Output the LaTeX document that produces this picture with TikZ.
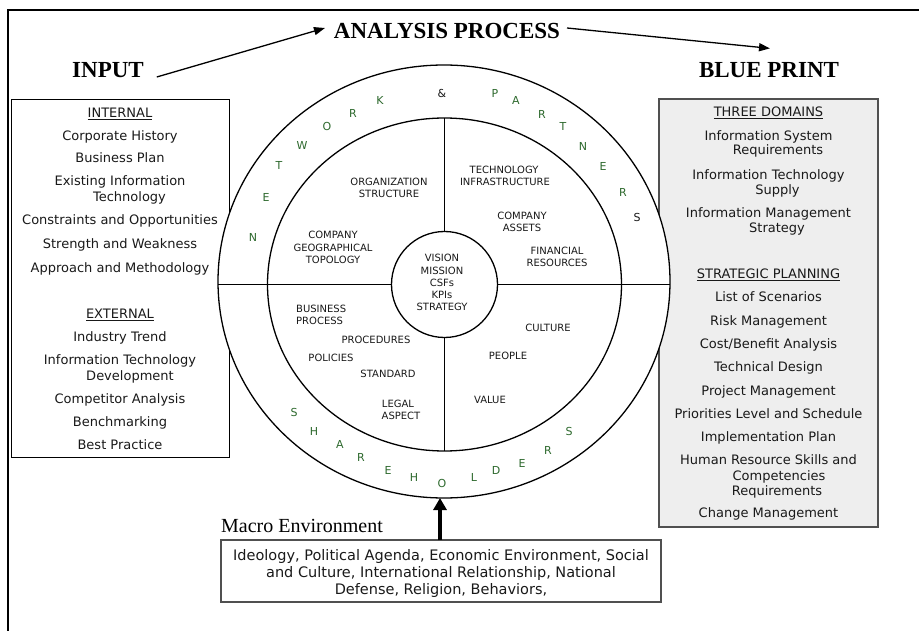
\documentclass[tikz,border=0pt]{standalone}
\usepackage{fontspec}
\setmainfont{Liberation Serif}
\newfontfamily\vsans{DejaVu Sans}
\usetikzlibrary{arrows.meta,calc,shapes.geometric}
\definecolor{ringgreen}{RGB}{45,105,45}
\definecolor{panelgray}{RGB}{238,238,238}
\definecolor{textdark}{RGB}{25,25,25}
\definecolor{panelline}{RGB}{80,80,80}

\begin{document}
\begin{tikzpicture}[x=1pt,y=-1pt,
  title/.style={font=\bfseries\fontsize{23}{24}\selectfont, inner sep=0pt, outer sep=0pt},
  listtext/.style={font=\vsans\fontsize{13}{15}\selectfont, text=textdark, anchor=base, inner sep=0pt},
  envtext/.style={listtext, font=\vsans\fontsize{14.5}{17}\selectfont},
  ringtext/.style={font=\vsans\fontsize{10}{12}\selectfont, text=textdark, anchor=base, inner sep=0pt},
  ringletter/.style={font=\vsans\fontsize{11}{12}\selectfont, text=ringgreen, inner sep=0pt},
  ringamp/.style={ringletter, text=textdark},
  panel/.style={draw, inner sep=0pt, outer sep=0pt, anchor=north west},
  ring/.style={draw, ellipse, fill=white, line width=1.3pt, inner sep=0pt, outer sep=0pt},
  divider/.style={line width=1.3pt},
  titlearrow/.style={line width=1.3pt, -{Triangle[length=11pt,width=8pt]}},
  envarrow/.style={line width=3.6pt, -{Triangle[length=12pt,width=13pt]}}
]
\useasboundingbox (0,0) rectangle (919,631);

% page frame (top and left rules)
\draw[line width=2.2pt] (8,631) -- (8,10) -- (919,10);

% side panels
\node[panel, minimum width=218pt, minimum height=358pt] (inbox) at (11,99) {};
\node[panel, fill=panelgray, draw=panelline, line width=1.2pt, minimum width=219pt, minimum height=428pt] (bpbox) at (659,99) {};

% rings
\node[ring, minimum width=452pt, minimum height=433pt] (outer) at (444,281.5) {};
\node[ring, minimum width=354pt, minimum height=333pt] (middle) at (444.5,284.5) {};
\node[ring, circle, minimum size=106pt] (inner) at (444.5,284.5) {};

\draw[divider] (middle.north) -- (inner.north);
\draw[divider] (inner.south) -- (middle.south);
\draw[divider] (inner.west) -- (inner.west -| outer.west);
\draw[divider] (inner.east) -- (inner.east -| outer.east);

% titles
\node[title] (analysis) at (447,31) {ANALYSIS PROCESS};
\node[title] (input) at (108,70) {INPUT};
\node[title] (blueprint) at (769,70) {BLUE PRINT};

\draw[titlearrow] ($(input.east)+(13,7)$) -- ($(analysis.west)+(-9,-3)$);
\draw[titlearrow] ($(analysis.east)+(7,-3)$) -- ($(blueprint.north)+(1,-14)$);

% input list
\foreach [count=\i] \x/\y/\t in {
  120/117.7/{\underline{INTERNAL}},
  120/140.7/{Corporate History},
  120/162.7/{Business Plan},
  120/185.7/{Existing Information},
  129.5/201.7/{Technology},
  120/224.7/{Constraints and Opportunities},
  120/248.7/{Strength and Weakness},
  120/272.7/{Approach and Methodology},
  120/318.7/{\underline{EXTERNAL}},
  120/341.7/{Industry Trend},
  120/364.7/{Information Technology},
  130/380.7/{Development},
  120/403.7/{Competitor Analysis},
  120/426.7/{Benchmarking},
  120/449.7/{Best Practice}}
  \node[listtext] (in\i) at (\x,\y) {\t};

% blue print list
\foreach [count=\i] \x/\y/\t in {
  768.5/116.5/{\underline{THREE DOMAINS}},
  768.5/140.5/{Information System},
  778/155/{Requirements},
  768.5/179.5/{Information Technology},
  777.5/194.5/{Supply},
  768.5/217.5/{Information Management},
  777/232.5/{Strategy},
  768.5/278.5/{\underline{STRATEGIC PLANNING}},
  768.5/301.5/{List of Scenarios},
  768.5/325.5/{Risk Management},
  768.5/348.5/{Cost/Benefit Analysis},
  768.5/371.5/{Technical Design},
  768.5/395.5/{Project Management},
  768.5/418.5/{Priorities Level and Schedule},
  768.5/441.5/{Implementation Plan},
  768.5/464.5/{Human Resource Skills and},
  779/480.5/{Competencies},
  777/495.5/{Requirements},
  768.5/517.5/{Change Management}}
  \node[listtext] (bp\i) at (\x,\y) {\t};

% ring contents
\foreach [count=\i] \x/\y/\t in {
  389/185.6/{ORGANIZATION}, 389/197.6/{STRUCTURE},
  333/238.6/{COMPANY}, 333/251.6/{GEOGRAPHICAL}, 333/263.6/{TOPOLOGY},
  442/261.6/{VISION}, 442/274.6/{MISSION}, 442/286.6/{CSFs}, 442/298.6/{KPIs}, 442/310.6/{STRATEGY},
  504/173.6/{TECHNOLOGY}, 505/185.6/{INFRASTRUCTURE},
  522/219.6/{COMPANY}, 522/231.6/{ASSETS},
  557/254.6/{FINANCIAL}, 557/266.6/{RESOURCES},
  376/343.6/{PROCEDURES},
  331/361.6/{POLICIES},
  388/377.6/{STANDARD},
  398/407.6/{LEGAL}, 401/419.6/{ASPECT},
  548/331.6/{CULTURE},
  508/359.6/{PEOPLE},
  490/403.6/{VALUE}}
  \node[ringtext] (rt\i) at (\x,\y) {\t};
\node[ringtext, anchor=base west] (bizA) at (296,312.6) {BUSINESS};
\node[ringtext, anchor=base west] (bizB) at (296,324.6) {PROCESS};

% letters around the outer ring
\foreach [count=\i] \x/\y/\t in {
  253/237/N, 266/197/E, 279/165/T, 302/145/W, 327/126/O, 353/113/R, 380/100/K,
  495/93/P, 516/100/A, 542/114/R, 563/126/T, 583/146/N, 603/166/E, 623/192/R,
  294/412/S, 314/431/H, 340/444/A, 361/457/R, 388/470/E, 414/477/H, 442/483/O,
  474/477/L, 496/470/D, 522/463/E, 548/450/R, 569/431/S}
  \node[ringletter] (lt\i) at (\x,\y) {\t};
\node[ringamp] (amp) at (442,93) {\&};
\node[ringamp] (lastS) at (637,217) {S};

% macro environment
\node[font=\fontsize{20}{22}\selectfont, anchor=base west, inner sep=0pt] (macrolabel) at (221,532.5) {Macro Environment};
\node[panel, draw=panelline, line width=1.4pt, minimum width=440pt, minimum height=62pt] (macro) at (221,540) {};
\node[envtext] (m1) at (441,560) {Ideology, Political Agenda, Economic Environment, Social};
\node[envtext] (m2) at (441,577) {and Culture, International Relationship, National};
\node[envtext] (m3) at (441,594) {Defense, Religion, Behaviors,};

\coordinate (envx) at (440,0);
\draw[envarrow] (macro.north -| envx) -- (envx |- outer.south);
\end{tikzpicture}
\end{document}
